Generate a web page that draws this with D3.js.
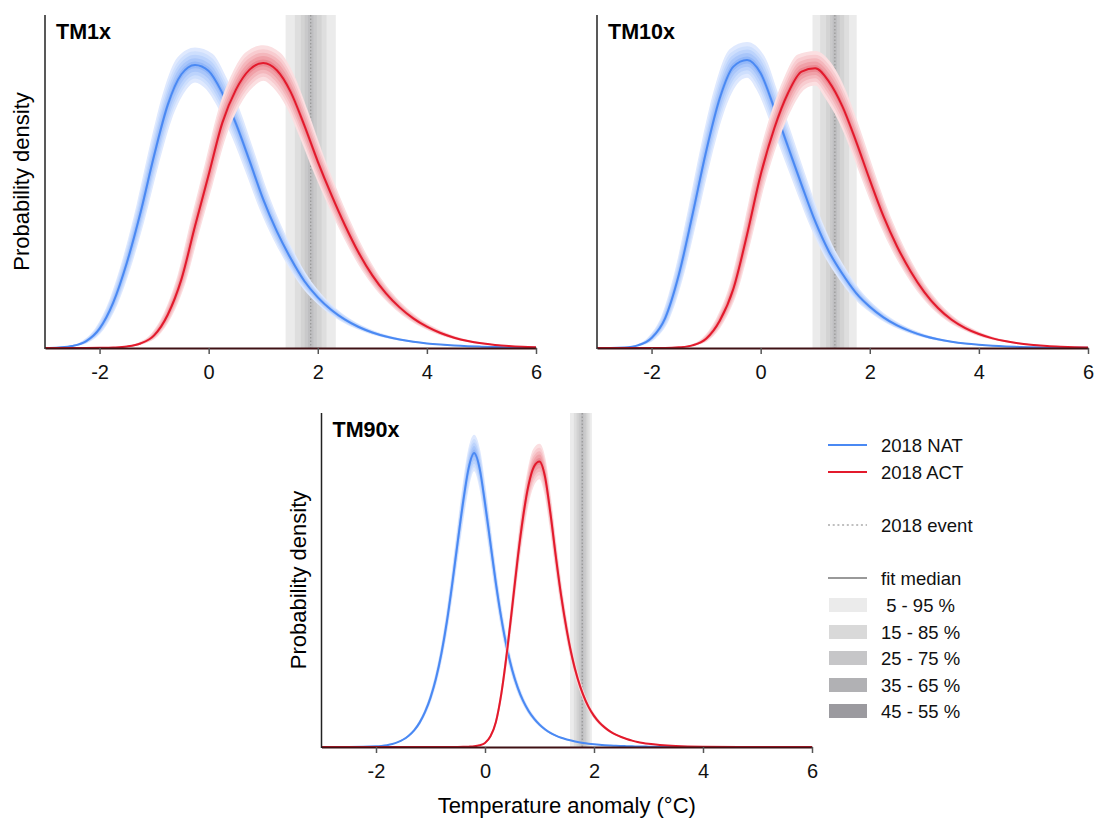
<!DOCTYPE html>
<html>
<head>
<meta charset="utf-8">
<script src="https://cdn.jsdelivr.net/npm/d3@7"></script>
<style>
  body { margin: 0; background: #fff; }
  text { font-family: "Liberation Sans", Arial, Helvetica, sans-serif; }
</style>
</head>
<body>
<div id="chart"></div>
<script>

// temperature anomaly grid (°C) for TM1x / TM10x
const grid25 = [-3, -2.75, -2.5, -2.25, -2, -1.75, -1.5, -1.25, -1, -0.75, -0.5, -0.25, 0, 0.25, 0.5, 0.75, 1, 1.25, 1.5, 1.75, 2, 2.25, 2.5, 2.75, 3, 3.25, 3.5, 3.75, 4, 4.25, 4.5, 4.75, 5, 5.25, 5.5, 5.75, 6]
// finer grid for TM90x (narrower distributions)
const grid10 = [-3, -2.5, -2, -1.9, -1.8, -1.7, -1.6, -1.5, -1.4, -1.3, -1.2, -1.1, -1, -0.9, -0.8, -0.7, -0.6, -0.5, -0.4, -0.3, -0.2, -0.1, 0, 0.1, 0.2, 0.3, 0.4, 0.5, 0.6, 0.7, 0.8, 0.9, 1, 1.1, 1.2, 1.3, 1.4, 1.5, 1.6, 1.7, 1.8, 1.9, 2, 2.1, 2.2, 2.3, 2.4, 2.5, 2.6, 2.7, 2.8, 2.9, 3, 3.5, 4, 5, 6]

// probability density, fit median
const tm1Nat = [0, 0.0008, 0.003, 0.01, 0.029, 0.068, 0.128, 0.203, 0.289, 0.365, 0.411, 0.425, 0.416, 0.383, 0.337, 0.281, 0.223, 0.175, 0.135, 0.101, 0.076, 0.057, 0.0425, 0.0315, 0.0233, 0.0172, 0.0127, 0.0094, 0.0069, 0.0051, 0.0037, 0.0027, 0.002, 0.0014, 0.001, 0.0007, 0.0005]
const tm1Act = [0, 0, 0, 0, 0.0002, 0.0007, 0.0022, 0.0068, 0.019, 0.05, 0.103, 0.183, 0.26, 0.338, 0.388, 0.418, 0.428, 0.417, 0.385, 0.335, 0.28, 0.23, 0.184, 0.143, 0.109, 0.082, 0.061, 0.0445, 0.032, 0.0225, 0.0155, 0.0105, 0.007, 0.0046, 0.003, 0.0019, 0.0012]

const tm10Nat = [0, 0.0001, 0.0008, 0.004, 0.015, 0.045, 0.11, 0.2, 0.295, 0.375, 0.4225, 0.4325, 0.4125, 0.36, 0.3025, 0.245, 0.19, 0.145, 0.111, 0.0825, 0.062, 0.046, 0.034, 0.025, 0.018, 0.013, 0.0093, 0.0066, 0.0047, 0.0033, 0.0023, 0.0016, 0.0011, 0.0007, 0.0005, 0.0003, 0.0002]
const tm10Act = [0, 0, 0, 0, 0, 0, 0.001, 0.004, 0.014, 0.041, 0.089, 0.17, 0.26, 0.33, 0.3825, 0.415, 0.42, 0.40, 0.3625, 0.31, 0.2525, 0.198, 0.1525, 0.115, 0.084, 0.06, 0.0425, 0.03, 0.021, 0.0145, 0.01, 0.0068, 0.0046, 0.003, 0.002, 0.0013, 0.0008]

const tm90Nat = [0, 0.0002, 0.002, 0.0033, 0.0055, 0.009, 0.0145, 0.0225, 0.034, 0.05, 0.073, 0.105, 0.148, 0.205, 0.28, 0.375, 0.49, 0.615, 0.735, 0.835, 0.88, 0.835, 0.73, 0.61, 0.49, 0.385, 0.298, 0.23, 0.178, 0.138, 0.108, 0.085, 0.067, 0.053, 0.042, 0.034, 0.0275, 0.0225, 0.0185, 0.015, 0.0122, 0.01, 0.0082, 0.0067, 0.0055, 0.0045, 0.0037, 0.003, 0.0025, 0.002, 0.0016, 0.0013, 0.001, 0.0004, 0.0001, 0, 0]
const tm90Act = [0, 0, 0, 0, 0, 0, 0, 0, 0, 0, 0, 0, 0, 0, 0, 0, 0, 0.0001, 0.0004, 0.001, 0.002, 0.005, 0.012, 0.032, 0.075, 0.16, 0.28, 0.42, 0.565, 0.69, 0.785, 0.84, 0.855, 0.81, 0.70, 0.57, 0.45, 0.35, 0.268, 0.205, 0.157, 0.12, 0.093, 0.073, 0.058, 0.046, 0.037, 0.03, 0.024, 0.019, 0.015, 0.012, 0.0095, 0.003, 0.001, 0.0001, 0]

// 2018 event value and its 5-95, 15-85, 25-75, 35-65, 45-55 % ranges
const tm1Event = 1.87
const tm1EventRange = [[1.41, 2.33], [1.58, 2.16], [1.69, 2.07], [1.76, 1.98], [1.82, 1.92]]
const tm10Event = 1.36
const tm10EventRange = [[0.95, 1.76], [1.09, 1.62], [1.20, 1.53], [1.27, 1.45], [1.32, 1.40]]
const tm90Event = 1.785
const tm90EventRange = [[1.56, 1.96], [1.63, 1.92], [1.68, 1.88], [1.72, 1.85], [1.76, 1.81]]

const xTicks = [-2, 0, 2, 4, 6]
const legendLabels = ["2018 NAT", "2018 ACT", "2018 event", "fit median", " 5 - 95 %", "15 - 85 %", "25 - 75 %", "35 - 65 %", "45 - 55 %"]

// fit uncertainty shown around each density (relative height, shift in °C)
const bandVert = [0.062, 0.048, 0.036, 0.024, 0.012]
const bandHoriz = [0.07, 0.055, 0.04, 0.027, 0.013]

const natLine = "#4a89f3"
const actLine = "#e31a2c"
const natBands = ["#dfe9fe", "#cedffd", "#bcd3fc", "#a9c6fa", "#94b8f8"]
const actBands = ["#fbdfe1", "#f8ccd0", "#f4b7bc", "#f0a1a8", "#eb8a93"]
const eventFill = ["#ebebeb", "#dedede", "#d3d3d3", "#c9c9ca", "#bfbfc1"]
const swatchFill = ["#ebebeb", "#d9d9d9", "#c6c6c8", "#b1b1b4", "#9b9a9f"]

const svg = d3.select("#chart").append("svg").attr("width", 1094).attr("height", 821)

const panels = [
  {title: "TM1x", xs: grid25, nat: tm1Nat, act: tm1Act, ev: tm1Event, q: tm1EventRange, yMax: 0.5, x0: 45, x1: 536, y0: 15, y1: 348, ylab: true, spread: 1},
  {title: "TM10x", xs: grid25, nat: tm10Nat, act: tm10Act, ev: tm10Event, q: tm10EventRange, yMax: 0.5, x0: 597, x1: 1088, y0: 15, y1: 348, ylab: false, spread: 1},
  {title: "TM90x", xs: grid10, nat: tm90Nat, act: tm90Act, ev: tm90Event, q: tm90EventRange, yMax: 1, x0: 321.5, x1: 812, y0: 413, y1: 747, ylab: true, spread: 0.2}
]

function bandPath(xs, ds, e, s, x, y) {
  const peak = d3.maxIndex(ds)
  const pts = xs.map((v, i) => ({v: v, d: ds[i], dir: i < peak ? -1 : (i > peak ? 1 : 0)}))
  return d3.area()
    .curve(d3.curveMonotoneX)
    .x1(p => x(p.v + p.dir * s)).y1(p => y(p.d * (1 + e)))
    .x0(p => x(p.v - p.dir * s)).y0(p => y(p.d * (1 - e)))(pts)
}

panels.forEach((p, pi) => {
  const x = d3.scaleLinear().domain([-3, 6]).range([p.x0, p.x1])
  const y = d3.scaleLinear().domain([0, p.yMax]).range([p.y1, p.y0])
  const g = svg.append("g")

  g.append("clipPath").attr("id", "clip" + pi)
    .append("rect")
    .attr("x", p.x0).attr("y", p.y0)
    .attr("width", p.x1 - p.x0).attr("height", p.y1 - p.y0)
  const plot = g.append("g").attr("clip-path", `url(#clip${pi})`)

  // event ranges
  plot.selectAll(".evband").data(p.q).join("rect")
    .attr("x", d => x(d[0])).attr("width", d => x(d[1]) - x(d[0]))
    .attr("y", p.y0).attr("height", p.y1 - p.y0)
    .attr("fill", (d, k) => eventFill[k])
  plot.append("line")
    .attr("x1", x(p.ev)).attr("x2", x(p.ev))
    .attr("y1", p.y0).attr("y2", p.y1)
    .attr("stroke", "#9a9a9a").attr("stroke-width", 1.3)
    .attr("stroke-dasharray", "1.5,2")

  const line = d3.line().curve(d3.curveMonotoneX).x((v, i) => x(p.xs[i])).y(v => y(v))

  const series = [[p.nat, natBands, natLine], [p.act, actBands, actLine]]
  series.forEach(([ds, bands, col]) => {
    bandVert.forEach((e, k) => {
      plot.append("path")
        .attr("d", bandPath(p.xs, ds, e, bandHoriz[k] * p.spread, x, y))
        .attr("fill", bands[k])
    })
    plot.append("path")
      .attr("d", line(ds))
      .attr("fill", "none")
      .attr("stroke", col)
      .attr("stroke-width", 2)
  })

  // axes
  const xAxis = g.append("g")
    .attr("transform", `translate(0,${p.y1})`)
    .call(d3.axisBottom(x).tickValues(xTicks).tickSize(6).tickSizeOuter(0).tickPadding(11).tickFormat(d => String(d)))
  xAxis.select(".domain").attr("stroke", "#3f1114").attr("stroke-width", 2)
  xAxis.selectAll(".tick line").attr("stroke", "#555").attr("stroke-width", 1.5)
  xAxis.selectAll(".tick text").attr("font-size", 20).attr("fill", "#111")
    .attr("font-family", '"Liberation Sans", Arial, sans-serif')

  g.append("line")
    .attr("x1", p.x0).attr("x2", p.x0)
    .attr("y1", p.y0).attr("y2", p.y1 + 1)
    .attr("stroke", "#222").attr("stroke-width", 1.5)

  g.append("text")
    .attr("x", p.x0 + 11).attr("y", p.y0 + 24)
    .attr("font-size", 21.5).attr("font-weight", "bold")
    .text(p.title)

  if (p.ylab) {
    g.append("text")
      .attr("transform", `translate(${p.x0 - 16},${(p.y0 + p.y1) / 2}) rotate(-90)`)
      .attr("text-anchor", "middle")
      .attr("font-size", 22)
      .text("Probability density")
  }
})

svg.append("text")
  .attr("x", (panels[2].x0 + panels[2].x1) / 2).attr("y", 813)
  .attr("text-anchor", "middle").attr("font-size", 22)
  .text("Temperature anomaly (°C)")

// legend
const lg = svg.append("g")
const lx0 = 828, lx1 = 867, tx = 881
const rowY = [445, 472, 525, 578, 605, 632, 658, 685, 711]

lg.append("line").attr("x1", lx0).attr("x2", lx1).attr("y1", rowY[0]).attr("y2", rowY[0])
  .attr("stroke", natLine).attr("stroke-width", 2)
lg.append("line").attr("x1", lx0).attr("x2", lx1).attr("y1", rowY[1]).attr("y2", rowY[1])
  .attr("stroke", actLine).attr("stroke-width", 2)
lg.append("line").attr("x1", lx0).attr("x2", lx1).attr("y1", rowY[2]).attr("y2", rowY[2])
  .attr("stroke", "#aaa").attr("stroke-width", 1.5).attr("stroke-dasharray", "2,2.7")
lg.append("line").attr("x1", lx0).attr("x2", lx1).attr("y1", rowY[3]).attr("y2", rowY[3])
  .attr("stroke", "#999").attr("stroke-width", 2)
swatchFill.forEach((c, k) => {
  lg.append("rect").attr("x", lx0 + 1).attr("y", rowY[4 + k] - 7)
    .attr("width", lx1 - lx0 - 1).attr("height", 14).attr("fill", c)
})
legendLabels.forEach((t, k) => {
  lg.append("text").attr("x", tx).attr("y", rowY[k]).attr("dy", "0.36em")
    .attr("font-size", 18.5).attr("fill", "#111")
    .style("white-space", "pre")
    .text(t)
})

</script>
</body>
</html>
